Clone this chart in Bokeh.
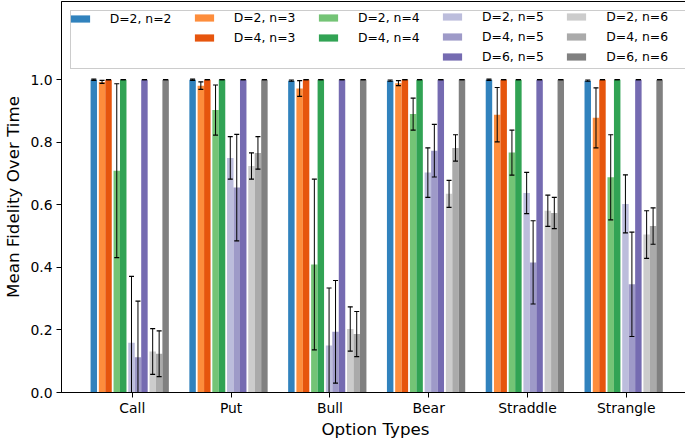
from bokeh.plotting import figure
from bokeh.models import (FixedTicker, Legend, LegendItem, Range1d, PrintfTickFormatter)
from bokeh.embed import file_html
from bokeh.resources import INLINE

# ---------------- data ----------------
option_types = ["Call", "Put", "Bull", "Bear", "Straddle", "Strangle"]

series_labels = ["D=2, n=2", "D=2, n=3", "D=4, n=3", "D=2, n=4", "D=4, n=4",
                 "D=2, n=5", "D=4, n=5", "D=6, n=5", "D=2, n=6", "D=4, n=6", "D=6, n=6"]
series_n = [2, 3, 3, 4, 4, 5, 5, 5, 6, 6, 6]

d2_n2 = [1.000, 1.000, 0.997, 0.997, 1.000, 0.997]
d2_n2_err = [0.002, 0.002, 0.002, 0.002, 0.002, 0.002]
d2_n3 = [0.993, 0.981, 0.972, 0.989, 0.888, 0.878]
d2_n3_err = [0.005, 0.012, 0.025, 0.008, 0.087, 0.096]
d4_n3 = [1.000, 1.000, 1.000, 1.000, 1.000, 1.000]
d4_n3_err = [0.000, 0.000, 0.000, 0.000, 0.000, 0.000]
d2_n4 = [0.709, 0.903, 0.409, 0.890, 0.767, 0.688]
d2_n4_err = [0.278, 0.080, 0.273, 0.051, 0.072, 0.136]
d4_n4 = [1.000, 1.000, 1.000, 1.000, 1.000, 1.000]
d4_n4_err = [0.000, 0.000, 0.000, 0.000, 0.000, 0.000]
d2_n5 = [0.159, 0.750, 0.150, 0.703, 0.638, 0.603]
d2_n5_err = [0.212, 0.068, 0.184, 0.079, 0.066, 0.093]
d4_n5 = [0.113, 0.655, 0.194, 0.773, 0.416, 0.346]
d4_n5_err = [0.179, 0.170, 0.164, 0.084, 0.133, 0.167]
d6_n5 = [1.000, 1.000, 1.000, 1.000, 1.000, 1.000]
d6_n5_err = [0.000, 0.000, 0.000, 0.000, 0.000, 0.000]
d2_n6 = [0.131, 0.724, 0.203, 0.635, 0.581, 0.505]
d2_n6_err = [0.073, 0.042, 0.071, 0.043, 0.050, 0.076]
d4_n6 = [0.124, 0.766, 0.187, 0.782, 0.574, 0.532]
d4_n6_err = [0.073, 0.052, 0.072, 0.042, 0.050, 0.058]
d6_n6 = [1.000, 1.000, 1.000, 1.000, 1.000, 1.000]
d6_n6_err = [0.000, 0.000, 0.000, 0.000, 0.000, 0.000]

series_values = [d2_n2, d2_n3, d4_n3, d2_n4, d4_n4, d2_n5, d4_n5, d6_n5, d2_n6, d4_n6, d6_n6]
series_errors = [d2_n2_err, d2_n3_err, d4_n3_err, d2_n4_err, d4_n4_err, d2_n5_err,
                 d4_n5_err, d6_n5_err, d2_n6_err, d4_n6_err, d6_n6_err]

# ---------------- style ----------------
colors = ["#3182bd", "#fd8d3c", "#e6550d", "#74c476", "#31a354",
          "#bcbddc", "#9e9ac8", "#756bb1", "#cccccc", "#aaaaaa", "#808080"]
FONT = "DejaVu Sans"
bar_w = 0.0655
n_gap = 0.018
first_offset = -0.39

FRAME_W = 628
FRAME_H = 391

p = figure(frame_width=FRAME_W, frame_height=FRAME_H,
           x_range=Range1d(-0.717, 5.64), y_range=Range1d(0, 1.25),
           output_backend="svg", toolbar_location=None,
           min_border_left=54, min_border_right=3, min_border_top=1, min_border_bottom=40)

# bar offsets inside each option group
offsets = []
off = first_offset
for i, n in enumerate(series_n):
    if i > 0:
        off += bar_w + (n_gap if n != series_n[i - 1] else 0)
    offsets.append(off)

renderers = []
for vals, off, col in zip(series_values, offsets, colors):
    xs = [i + off for i in range(len(option_types))]
    r = p.vbar(x=xs, top=vals, bottom=0, width=bar_w, fill_color=col, line_color=None)
    renderers.append(r)

for vals, errs, off in zip(series_values, series_errors, offsets):
    xs = [i + off for i in range(len(option_types))]
    lo = [v - e for v, e in zip(vals, errs)]
    hi = [v + e for v, e in zip(vals, errs)]
    p.segment(x0=xs, y0=lo, x1=xs, y1=hi, line_color="black", line_width=1)
    p.scatter(x=xs + xs, y=lo + hi, marker="dash", size=5, line_color="black", line_width=1.2)

# dummy renderer used only to size the legend frame
frame_dummy = p.vbar(x=[], top=[], width=0.1, fill_alpha=0, line_alpha=0)

# axes
p.xgrid.visible = False
p.ygrid.visible = False
p.outline_line_color = "black"
p.outline_line_width = 1
p.outline_line_alpha = 1

p.xaxis.ticker = FixedTicker(ticks=list(range(len(option_types))))
p.xaxis.major_label_overrides = {i: name for i, name in enumerate(option_types)}
p.yaxis.ticker = FixedTicker(ticks=[0.0, 0.2, 0.4, 0.6, 0.8, 1.0])
p.yaxis.formatter = PrintfTickFormatter(format="%.1f")
p.xaxis.axis_label = "Option Types"
p.yaxis.axis_label = "Mean Fidelity Over Time"
for ax in (p.xaxis[0], p.yaxis[0]):
    ax.axis_line_color = "black"
    ax.major_tick_line_color = "black"
    ax.major_tick_out = 5
    ax.major_tick_in = 0
    ax.minor_tick_out = 0
    ax.minor_tick_in = 0
    ax.major_label_text_font = FONT
    ax.major_label_text_font_size = "13.9px"
    ax.major_label_text_color = "black"
    ax.axis_label_text_font = FONT
    ax.axis_label_text_font_size = "16.7px"
    ax.axis_label_text_font_style = "normal"
    ax.axis_label_text_color = "black"
p.yaxis.major_label_standoff = 4
p.xaxis.major_label_standoff = 2
p.xaxis.axis_label_standoff = 0
p.yaxis.axis_label_standoff = 4

# legend frame (a single empty item sized to the whole legend block)
box_x = 9
box_w = 596
box_h = 57
frame_leg = Legend(items=[LegendItem(label=" ", renderers=[frame_dummy])],
                   location=(box_x, FRAME_H - 67.7),
                   glyph_width=box_w, glyph_height=box_h, label_height=box_h,
                   label_standoff=0, padding=0, margin=0, spacing=0,
                   border_line_color="#cccccc", border_line_width=1, border_line_alpha=1,
                   background_fill_color="white", background_fill_alpha=0.8,
                   label_text_font=FONT, label_text_font_size="4px")
p.add_layout(frame_leg)

columns = [[0], [1, 2], [3, 4], [5, 6, 7], [8, 9, 10]]
col_x = [6.7, 130.7, 254.9, 379.0, 503.3]
row_h = 14
row_sp = 5
row_top = 11
for cx, idxs in zip(col_x, columns):
    nrows = len(idxs)
    h = nrows * row_h + (nrows - 1) * row_sp
    leg = Legend(items=[LegendItem(label=series_labels[i], renderers=[renderers[i]]) for i in idxs],
                 location=(cx, FRAME_H - row_top - h), orientation="vertical",
                 glyph_width=24, glyph_height=9, label_standoff=18, label_height=row_h,
                 spacing=row_sp, padding=0, margin=0,
                 border_line_alpha=0, background_fill_alpha=0,
                 label_text_font=FONT, label_text_font_size="12.4px", label_text_color="black")
    p.add_layout(leg)

open("out.html", "w").write(file_html(p, INLINE))
